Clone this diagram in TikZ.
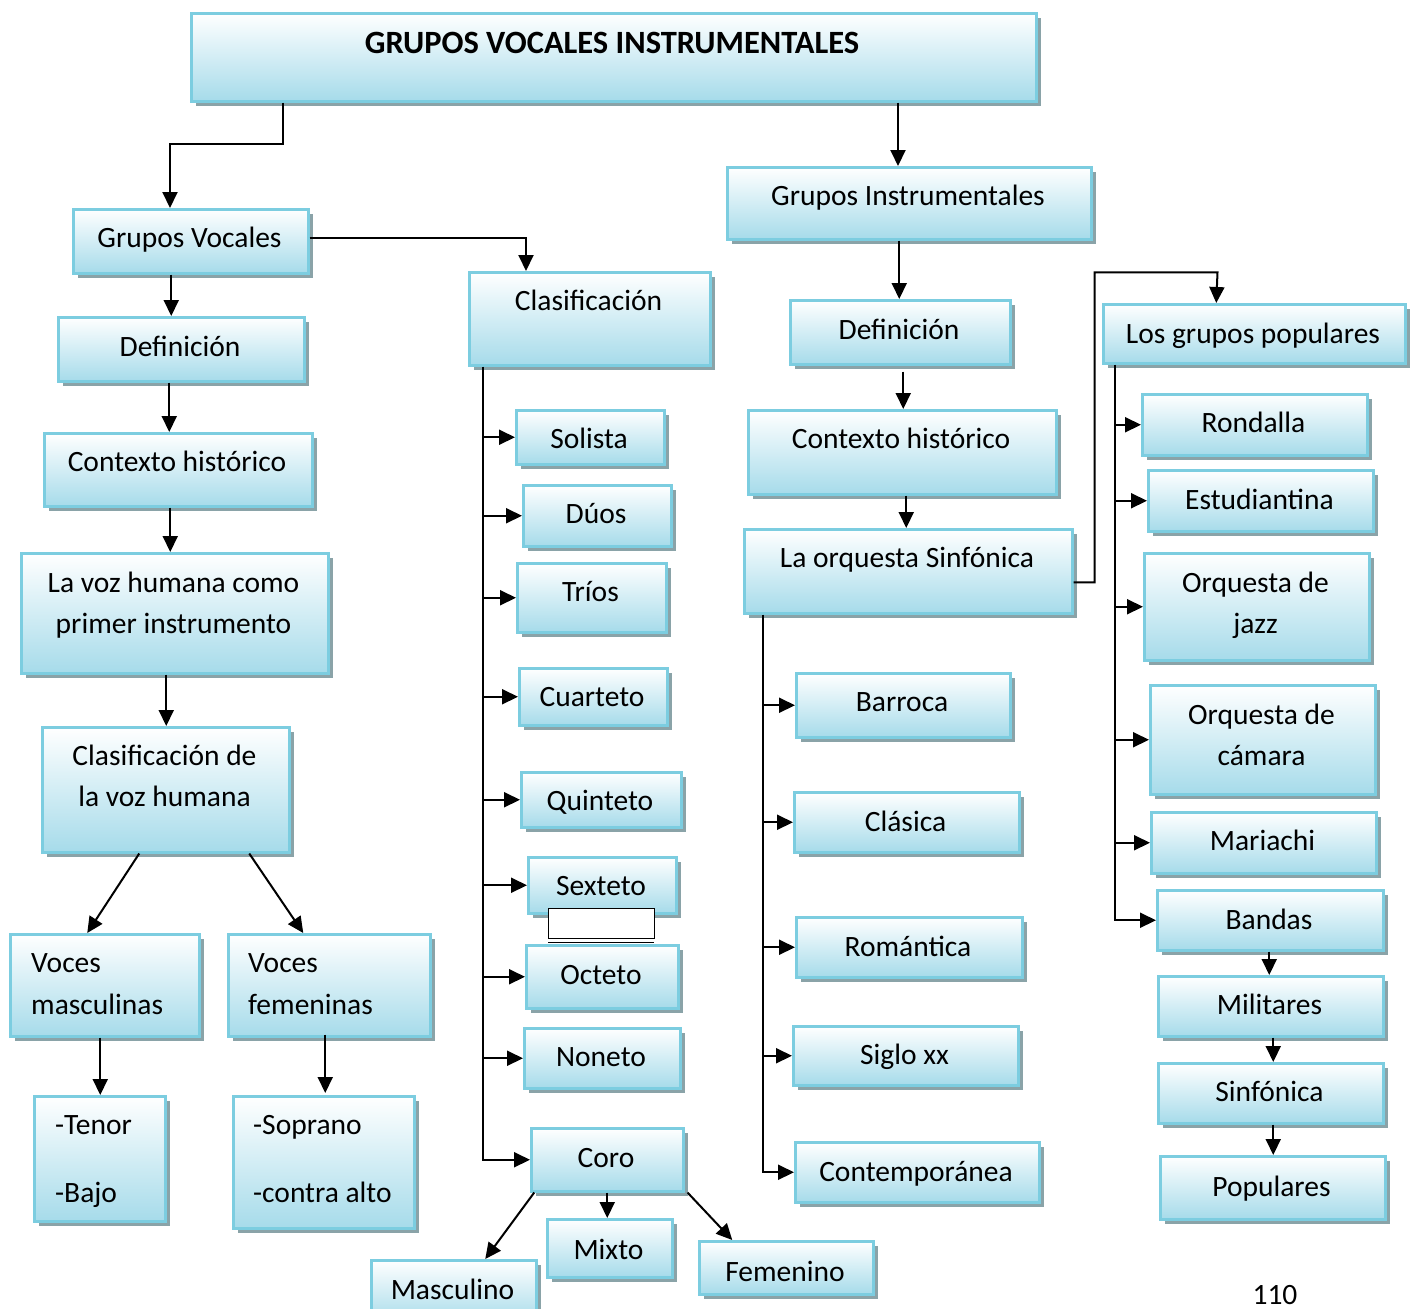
\documentclass[tikz,border=0pt]{standalone}
\usepackage{fontspec}
\setmainfont{Carlito}
\usetikzlibrary{arrows.meta,shadows}
\definecolor{bordc}{HTML}{7CCDE0}
\definecolor{fillc}{HTML}{A6DBEA}
\definecolor{shadc}{HTML}{8AA3A8}
\tikzset{
  bxs/.style={draw=bordc, line width=2.5pt, top color=white, bottom color=fillc, inner sep=0pt,
    anchor=north west, drop shadow={shadow xshift=5pt, shadow yshift=-5pt, fill=shadc, opacity=1}},
  tx/.style={font=\fontsize{29.5}{35}\selectfont, anchor=base, inner sep=0pt},
  txl/.style={tx, anchor=base west},
  ar/.style={draw, line width=2pt, -{Triangle[length=16pt,width=15pt]}},
  ln/.style={draw, line width=2pt}
}
% name, x1, y1, x2, y2
\newcommand\bx[5]{\node[bxs, minimum width={#4-#2}, minimum height={#5-#3}] (#1) at (#2,#3) {};}
\begin{document}
\begin{tikzpicture}[x=1pt,y=-1pt]
\useasboundingbox (0,0) rectangle (1414,1309);
\clip (0,0) rectangle (1414,1309);

% ---------- boxes ----------
\bx{title}{190}{12}{1035}{100}
\node[tx, font=\fontsize{32.5}{38}\selectfont\bfseries] (ttitle) at (612,53) {GRUPOS VOCALES INSTRUMENTALES};

\bx{GV}{72}{208}{307}{272}
\node[tx] (tGV) at (189.5,247) {Grupos Vocales};
\bx{defL}{57}{316}{303}{380}
\node[tx] (tdefL) at (180,356) {Definición};
\bx{ctxL}{43}{432}{311}{505}
\node[tx] (tctxL) at (177,471) {Contexto histórico};
\bx{voz}{20}{552}{327}{672}
\node[tx] (tvoz1) at (173.5,592) {La voz humana como};
\node[tx] (tvoz2) at (173.5,633) {primer instrumento};
\bx{clv}{41}{726}{288}{851}
\node[tx] (tclv1) at (164.5,765) {Clasificación de};
\node[tx] (tclv2) at (164.5,806) {la voz humana};
\bx{vm}{9}{933}{198}{1035}
\node[txl] (tvm1) at (31,972) {Voces};
\node[txl] (tvm2) at (31,1014) {masculinas};
\bx{vf}{227}{933}{429}{1035}
\node[txl] (tvf1) at (248,972) {Voces};
\node[txl] (tvf2) at (248,1014) {femeninas};
\bx{ten}{33}{1095}{164}{1220}
\node[txl] (tten1) at (55,1134) {-Tenor};
\node[txl] (tten2) at (55,1202) {-Bajo};
\bx{sop}{232}{1095}{413}{1227}
\node[txl] (tsop1) at (253,1134) {-Soprano};
\node[txl] (tsop2) at (253,1202) {-contra alto};

\bx{clas}{468}{271}{709}{364}
\node[tx] (tclas) at (588.5,310) {Clasificación};
\bx{sol}{515}{409}{663}{463}
\node[tx] (tsol) at (589,448) {Solista};
\bx{duo}{522}{484}{670}{545}
\node[tx] (tduo) at (596,523) {Dúos};
\bx{tri}{516}{562}{665}{631}
\node[tx] (ttri) at (590.5,601) {Tríos};
\bx{cua}{518}{667}{666}{724}
\node[tx] (tcua) at (592,706) {Cuarteto};
\bx{qui}{520}{771}{680}{826}
\node[tx] (tqui) at (600,810) {Quinteto};
\bx{sex}{527}{856}{675}{912}
\node[tx] (tsex) at (601,895) {Sexteto};
\node[draw, line width=1.2pt, fill=white, minimum width=106pt, minimum height=30pt, inner sep=0pt, anchor=north west] (blank) at (548,908) {};
\draw[line width=1.2pt] (blank.south west) ++(0,3) -- ++(106,0);
\bx{oct}{525}{944}{677}{1007}
\node[tx] (toct) at (601,984) {Octeto};
\bx{non}{523}{1027}{679}{1087}
\node[tx] (tnon) at (601,1066) {Noneto};
\bx{coro}{530}{1127}{682}{1190}
\node[tx] (tcoro) at (606,1167) {Coro};
\bx{masc}{370}{1259}{535}{1322}
\node[tx] (tmasc) at (452.5,1299) {Masculino};
\bx{mix}{546}{1218}{671}{1276}
\node[tx] (tmix) at (608.5,1259) {Mixto};
\bx{fem}{698}{1240}{872}{1293}
\node[tx] (tfem) at (785,1281) {Femenino};

\bx{GI}{726}{166}{1090}{238}
\node[tx] (tGI) at (908,205) {Grupos Instrumentales};
\bx{defM}{789}{299}{1009}{363}
\node[tx] (tdefM) at (899,339) {Definición};
\bx{ctxM}{747}{409}{1055}{493}
\node[tx] (tctxM) at (901,448) {Contexto histórico};
\bx{orq}{743}{528}{1071}{612}
\node[tx] (torq) at (907,567) {La orquesta Sinfónica};
\bx{bar}{795}{672}{1009}{736}
\node[tx] (tbar) at (902,711) {Barroca};
\bx{cla}{793}{791}{1018}{851}
\node[tx] (tcla) at (905.5,831) {Clásica};
\bx{rom}{795}{916}{1021}{976}
\node[tx] (trom) at (908,956) {Romántica};
\bx{sig}{792}{1025}{1017}{1084}
\node[tx] (tsig) at (904.5,1064) {Siglo xx};
\bx{con}{794}{1141}{1038}{1201}
\node[tx] (tcon) at (916,1181) {Contemporánea};

\bx{pop}{1102}{303}{1404}{362}
\node[tx] (tpop) at (1253,343) {Los grupos populares};
\bx{ron}{1141}{393}{1366}{454}
\node[tx] (tron) at (1253.5,432) {Rondalla};
\bx{est}{1147}{469}{1372}{530}
\node[tx] (test) at (1259.5,509) {Estudiantina};
\bx{jaz}{1143}{552}{1368}{659}
\node[tx] (tjaz1) at (1255.5,592) {Orquesta de};
\node[tx] (tjaz2) at (1255.5,633) {jazz};
\bx{cam}{1149}{684}{1374}{793}
\node[tx] (tcam1) at (1261.5,724) {Orquesta de};
\node[tx] (tcam2) at (1261.5,765) {cámara};
\bx{mar}{1150}{811}{1375}{872}
\node[tx] (tmar) at (1262.5,850) {Mariachi};
\bx{ban}{1156}{889}{1382}{949}
\node[tx] (tban) at (1269,929) {Bandas};
\bx{mil}{1157}{975}{1382}{1035}
\node[tx] (tmil) at (1269.5,1014) {Militares};
\bx{sin}{1157}{1062}{1382}{1122}
\node[tx] (tsin) at (1269.5,1101) {Sinfónica};
\bx{popu}{1159}{1155}{1384}{1218}
\node[tx] (tpopu) at (1271.5,1196) {Populares};

\node[tx] (page) at (1275,1304) {110};

% ---------- connectors ----------
\draw[ar] ([xshift=93pt]title.south west) |- ([xshift=98pt,yshift=64pt]GV.north west) -- ([xshift=98pt]GV.north west);
\draw[ar] ([xshift=708pt]title.south west) -- ([xshift=172pt]GI.north west);
\draw[ar] ([yshift=3pt]GV.east) -| ([xshift=58pt]clas.north west);

\draw[ar] ([xshift=-19.5pt]GV.south) -- ([xshift=-10pt]defL.north);
\draw[ar] ([xshift=-12pt]defL.south) -- ([xshift=-9pt]ctxL.north);
\draw[ar] ([xshift=-8pt]ctxL.south) -- ([xshift=-4.5pt]voz.north);
\draw[ar] ([xshift=-8.5pt]voz.south) -- ([xshift=0.5pt]clv.north);
\draw[ar] ([xshift=-26.5pt]clv.south) -- ([xshift=-17.5pt]vm.north);
\draw[ar] ([xshift=83.5pt]clv.south) -- ([xshift=-26pt]vf.north);
\draw[ar] ([xshift=-4.5pt]vm.south) -- ([xshift=0.5pt]ten.north);
\draw[ar] ([xshift=-4pt,yshift=3pt]vf.south) -- ([xshift=1.5pt,yshift=2pt]sop.north);

% Clasificacion trunk
\coordinate (ctr) at ([xshift=15pt]clas.south west);
\draw[ar] (ctr) |- (coro.west);
\foreach \b in {sol,duo,tri,cua,qui,sex,oct,non}{
  \draw[ar] (\b.west -| ctr) -- (\b.west);
}
\draw[ar] ([xshift=-73pt]coro.south) -- ([xshift=31.5pt]masc.north);
\draw[ar] (coro.south) -- ([xshift=-2.5pt]mix.north);
\draw[ar] ([xshift=3pt]coro.south east) -- ([xshift=-54pt]fem.north);

% Instrumentales
\draw[ar] ([xshift=-10pt]GI.south) -- ([xshift=-1pt]defM.north);
\draw[ar] ([xshift=3pt,yshift=-6pt]defM.south) -- ([xshift=1pt]ctxM.north);
\draw[ar] ([xshift=4pt]ctxM.south) -- ([xshift=-2pt]orq.north);
\coordinate (otr) at ([xshift=20pt]orq.south west);
\draw[ar] (otr) |- (con.west);
\foreach \b in {bar,cla,rom,sig}{
  \draw[ar] (\b.west -| otr) -- (\b.west);
}
\draw[ar] ([yshift=-11pt]orq.east) -- ++(21,0) -- ++(0,-310) -- ++(123,0) -- ([xshift=-38pt]pop.north);

% Populares trunk
\coordinate (ptr) at ([xshift=13pt]pop.south west);
\draw[ar] (ptr) |- (ban.west);
\foreach \b in {ron,est,jaz,cam,mar}{
  \draw[ar] (\b.west -| ptr) -- (\b.west);
}
\draw[ar] ([xshift=-1pt]ban.south) -- ([xshift=-1.5pt]mil.north);
\draw[ar] ([xshift=2.5pt]mil.south) -- ([xshift=2.5pt]sin.north);
\draw[ar] ([xshift=2.5pt]sin.south) -- ([xshift=0.5pt]popu.north);
\end{tikzpicture}
\end{document}
